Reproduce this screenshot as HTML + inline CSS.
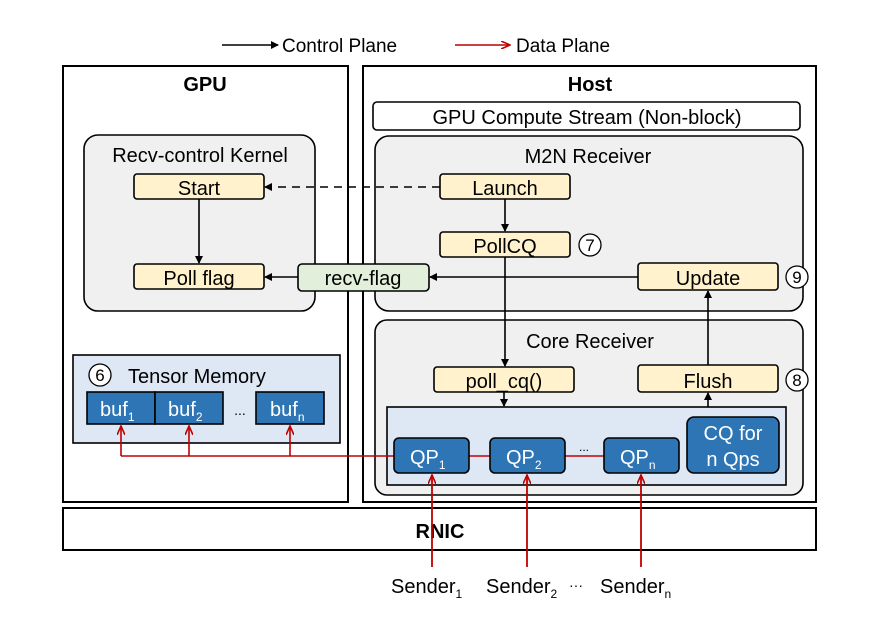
<!DOCTYPE html>
<html><head><meta charset="utf-8"><style>body{margin:0;background:#fff}svg{display:block}text{font-family:"Liberation Sans",sans-serif;fill:#000}</style></head><body>
<svg width="885" height="623" viewBox="0 0 885 623" xmlns="http://www.w3.org/2000/svg">
<defs>
<marker id="ab" markerWidth="8" markerHeight="8" refX="7" refY="4" orient="auto" markerUnits="userSpaceOnUse"><path d="M0,0 L8,4 L0,8 z" fill="#000"/></marker>
<marker id="ar" markerWidth="10" markerHeight="8" refX="9" refY="4" orient="auto" markerUnits="userSpaceOnUse"><path d="M0,0 L9,4 L0,8" fill="none" stroke="#c00000" stroke-width="1.6"/></marker>
</defs>
<line x1="222" y1="45" x2="278" y2="45" stroke="#000" stroke-width="1.6" marker-end="url(#ab)"/>
<text x="282" y="52" font-size="19">Control Plane</text>
<line x1="455" y1="45" x2="510" y2="45" stroke="#c00000" stroke-width="1.6" marker-end="url(#ar)"/>
<text x="516" y="52" font-size="19">Data Plane</text>
<rect x="63" y="66" width="285" height="436" fill="none" stroke="#000" stroke-width="2"/>
<rect x="363" y="66" width="453" height="436" fill="none" stroke="#000" stroke-width="2"/>
<text x="205" y="91" font-size="20" font-weight="bold" text-anchor="middle">GPU</text>
<text x="590" y="91" font-size="20" font-weight="bold" text-anchor="middle">Host</text>
<rect x="373" y="102" width="427" height="28" rx="4" fill="#fff" stroke="#000" stroke-width="1.6"/>
<text x="587" y="124" font-size="20" text-anchor="middle">GPU Compute Stream (Non-block)</text>
<rect x="375" y="136" width="428" height="175" rx="14" fill="#f0f0f0" stroke="#000" stroke-width="1.6"/>
<text x="588" y="163" font-size="20" text-anchor="middle">M2N Receiver</text>
<rect x="84" y="135" width="231" height="176" rx="14" fill="#f0f0f0" stroke="#000" stroke-width="1.6"/>
<text x="200" y="162" font-size="20" text-anchor="middle">Recv-control Kernel</text>
<g stroke="#000" stroke-width="1.6" fill="#fff2cc">
<rect x="134" y="174" width="130" height="25" rx="3"/>
<rect x="134" y="264" width="130" height="25" rx="3"/>
<rect x="440" y="174" width="130" height="25" rx="3"/>
<rect x="440" y="232" width="130" height="25" rx="3"/>
<rect x="638" y="263" width="140" height="27" rx="3"/>
</g>
<text x="199" y="195" font-size="20" text-anchor="middle">Start</text>
<text x="199" y="285" font-size="20" text-anchor="middle">Poll flag</text>
<text x="505" y="195" font-size="20" text-anchor="middle">Launch</text>
<text x="505" y="253" font-size="20" text-anchor="middle">PollCQ</text>
<text x="708" y="285" font-size="20" text-anchor="middle">Update</text>
<rect x="298" y="264" width="131" height="27" rx="4" fill="#e2efda" stroke="#000" stroke-width="1.6"/>
<text x="363" y="285" font-size="20" text-anchor="middle">recv-flag</text>
<line x1="440" y1="187" x2="265" y2="187" stroke="#000" stroke-width="1.6" stroke-dasharray="8,6" marker-end="url(#ab)"/>
<line x1="199" y1="199" x2="199" y2="263" stroke="#000" stroke-width="1.6" marker-end="url(#ab)"/>
<line x1="505" y1="199" x2="505" y2="231" stroke="#000" stroke-width="1.6" marker-end="url(#ab)"/>
<line x1="298" y1="277" x2="265" y2="277" stroke="#000" stroke-width="1.6" marker-end="url(#ab)"/>
<line x1="638" y1="277" x2="430" y2="277" stroke="#000" stroke-width="1.6" marker-end="url(#ab)"/>
<rect x="375" y="320" width="428" height="175" rx="12" fill="#f0f0f0" stroke="#000" stroke-width="1.6"/>
<text x="590" y="348" font-size="20" text-anchor="middle">Core Receiver</text>
<g stroke="#000" stroke-width="1.6" fill="#fff2cc">
<rect x="434" y="367" width="140" height="25" rx="3"/>
<rect x="638" y="365" width="140" height="27" rx="3"/>
</g>
<text x="504" y="388" font-size="20" text-anchor="middle">poll_cq()</text>
<text x="708" y="388" font-size="20" text-anchor="middle">Flush</text>
<line x1="505" y1="257" x2="505" y2="366" stroke="#000" stroke-width="1.6" marker-end="url(#ab)"/>
<line x1="708" y1="365" x2="708" y2="291" stroke="#000" stroke-width="1.6" marker-end="url(#ab)"/>
<rect x="387" y="407" width="399" height="78" fill="#dde8f4" stroke="#000" stroke-width="1.6"/>
<line x1="504" y1="392" x2="504" y2="406" stroke="#000" stroke-width="1.6" marker-end="url(#ab)"/>
<line x1="708" y1="407" x2="708" y2="393" stroke="#000" stroke-width="1.6" marker-end="url(#ab)"/>
<line x1="121" y1="456" x2="394" y2="456" stroke="#c00000" stroke-width="1.6"/>
<line x1="469" y1="456" x2="604" y2="456" stroke="#c00000" stroke-width="1.6"/>
<g stroke="#000" stroke-width="1.6" fill="#2e75b6">
<rect x="394" y="438" width="75" height="35" rx="5"/>
<rect x="490" y="438" width="75" height="35" rx="5"/>
<rect x="604" y="438" width="75" height="35" rx="5"/>
<rect x="687" y="417" width="92" height="56" rx="7"/>
</g>
<g font-size="20">
<text x="410" y="464" style="fill:#fff">QP<tspan font-size="12" dy="5">1</tspan></text>
<text x="506" y="464" style="fill:#fff">QP<tspan font-size="12" dy="5">2</tspan></text>
<text x="620" y="464" style="fill:#fff">QP<tspan font-size="12" dy="5">n</tspan></text>
<text x="733" y="440" text-anchor="middle" style="fill:#fff">CQ for</text>
<text x="733" y="466" text-anchor="middle" style="fill:#fff">n Qps</text>
</g>
<text x="584" y="451" font-size="12" text-anchor="middle">...</text>
<rect x="73" y="355" width="267" height="88" fill="#dde8f4" stroke="#000" stroke-width="1.6"/>
<text x="128" y="383" font-size="20">Tensor Memory</text>
<g stroke="#000" stroke-width="1.6" fill="#2e75b6">
<rect x="87" y="392" width="68" height="32"/>
<rect x="155" y="392" width="68" height="32"/>
<rect x="256" y="392" width="68" height="32"/>
</g>
<text x="100" y="416" font-size="20" style="fill:#fff">buf<tspan font-size="12" dy="5">1</tspan></text>
<text x="168" y="416" font-size="20" style="fill:#fff">buf<tspan font-size="12" dy="5">2</tspan></text>
<text x="270" y="416" font-size="20" style="fill:#fff">buf<tspan font-size="12" dy="5">n</tspan></text>
<text x="240" y="415" font-size="14" text-anchor="middle">...</text>
<g stroke="#c00000" stroke-width="1.6" fill="none">
<line x1="121" y1="456" x2="121" y2="426" marker-end="url(#ar)"/>
<line x1="189" y1="456" x2="189" y2="426" marker-end="url(#ar)"/>
<line x1="290" y1="456" x2="290" y2="426" marker-end="url(#ar)"/>
</g>
<rect x="63" y="508" width="753" height="42" fill="#fff" stroke="#000" stroke-width="2"/>
<text x="440" y="538" font-size="20" font-weight="bold" text-anchor="middle">RNIC</text>
<g stroke="#c00000" stroke-width="1.8" fill="none">
<line x1="432" y1="567" x2="432" y2="475" marker-end="url(#ar)"/>
<line x1="527" y1="567" x2="527" y2="475" marker-end="url(#ar)"/>
<line x1="641" y1="567" x2="641" y2="475" marker-end="url(#ar)"/>
</g>
<text x="391" y="593" font-size="20">Sender<tspan font-size="12" dy="5">1</tspan></text>
<text x="486" y="593" font-size="20">Sender<tspan font-size="12" dy="5">2</tspan></text>
<text x="576" y="590" font-size="14" text-anchor="middle">···</text>
<text x="600" y="593" font-size="20">Sender<tspan font-size="12" dy="5">n</tspan></text>
<g fill="#fff" stroke="#000" stroke-width="1.3">
<circle cx="590" cy="245" r="11"/><circle cx="797" cy="277" r="11"/><circle cx="797" cy="380" r="11"/><circle cx="100" cy="375" r="11"/>
</g>
<text x="590" y="251" font-size="17" text-anchor="middle">7</text>
<text x="797" y="283" font-size="17" text-anchor="middle">9</text>
<text x="797" y="386" font-size="17" text-anchor="middle">8</text>
<text x="100" y="381" font-size="17" text-anchor="middle">6</text>
</svg>
</body></html>
